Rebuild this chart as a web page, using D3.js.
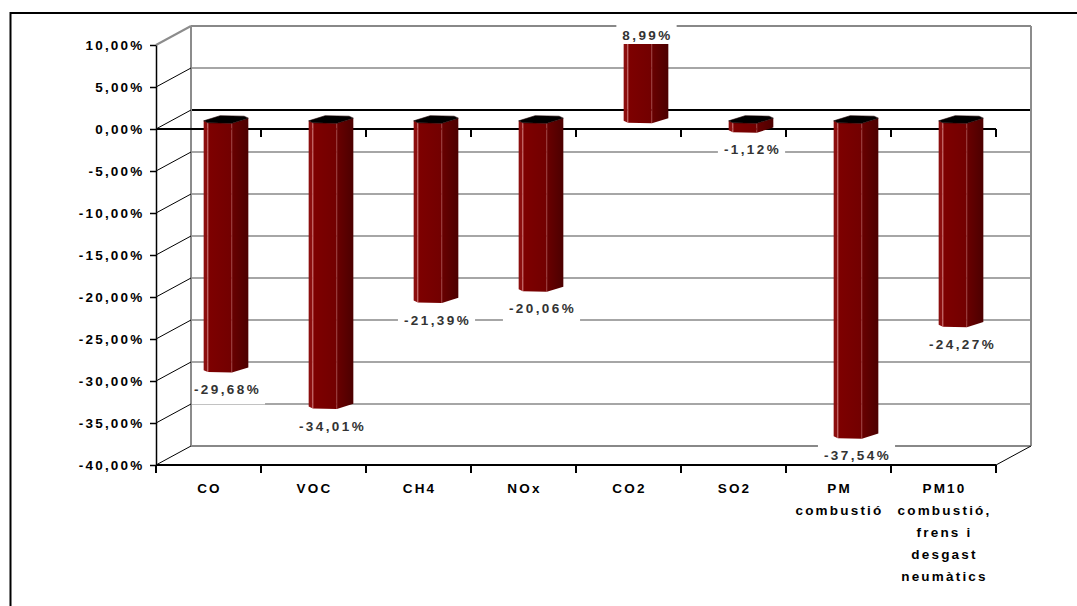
<!DOCTYPE html>
<html>
<head>
<meta charset="utf-8">
<script src="https://cdn.jsdelivr.net/npm/d3@7"></script>
<style>
  html, body { margin: 0; padding: 0; background: #fff; }
  svg { display: block; }
  text { font-family: "Liberation Sans", Arial, sans-serif; font-weight: bold; }
</style>
</head>
<body>
<svg id="chart" width="1077" height="606"></svg>
<script>
// Emission change per pollutant (%)
const categories = ["CO", "VOC", "CH4", "NOx", "CO2", "SO2", "PM combustió",
                    "PM10 combustió, frens i desgast neumàtics"];
const categoryLines = [["CO"], ["VOC"], ["CH4"], ["NOx"], ["CO2"], ["SO2"],
                       ["PM", "combustió"],
                       ["PM10", "combustió,", "frens i", "desgast", "neumàtics"]];
const changes = [-29.68, -34.01, -21.39, -20.06, 8.99, -1.12, -37.54, -24.27];
const tickValues = [10, 5, 0, -5, -10, -15, -20, -25, -30, -35, -40];

const locale = d3.formatLocale({ decimal: ",", thousands: ".", grouping: [3], currency: ["", "€"], minus: "-" });
const pct = v => locale.format(".2f")(v) + "%";

const svg = d3.select("#chart");

// front plane and the depth shift to the back wall
const front = { left: 156, right: 996, top: 45, bottom: 465 };
const depth = { dx: 35, dy: 19 };

const y = d3.scaleLinear().domain([-40, 10]).range([front.bottom, front.top]);
const x = d3.scaleBand().domain(categories).range([front.left, front.right]).padding(0);
const bw = x.bandwidth();

// outer frame
svg.append("rect")
  .attr("x", 10.5).attr("y", 13).attr("width", 1200).attr("height", 800)
  .attr("fill", "none").attr("stroke", "#000").attr("stroke-width", 2);

const grid = svg.append("g");
const backL = front.left + depth.dx, backR = front.right + depth.dx;

// back wall gridlines
grid.selectAll("line.g").data(tickValues).join("line")
  .attr("x1", backL).attr("x2", backR)
  .attr("y1", d => y(d) - depth.dy).attr("y2", d => y(d) - depth.dy)
  .attr("stroke", d => d === 0 ? "#000" : "#888")
  .attr("stroke-width", d => (d === 0 || d === 10 || d === -40) ? 2 : 1.3);

// label backgrounds interrupt the gridlines only
const labelBoxes = svg.append("g");

const walls = svg.append("g");
// back wall side edges
[backL, backR].forEach(bx => {
  walls.append("line")
    .attr("x1", bx).attr("x2", bx)
    .attr("y1", y(10) - depth.dy).attr("y2", y(-40) - depth.dy)
    .attr("stroke", "#8c8c8c").attr("stroke-width", 2);
});

// side wall diagonals
walls.selectAll("line.d").data(tickValues).join("line")
  .attr("x1", front.left).attr("x2", backL)
  .attr("y1", d => y(d)).attr("y2", d => y(d) - depth.dy)
  .attr("stroke", d => d === 10 ? "#8c8c8c" : "#000")
  .attr("stroke-width", d => d === 10 ? 2 : 1);

// floor right edge
walls.append("line")
  .attr("x1", front.right).attr("y1", y(-40))
  .attr("x2", backR).attr("y2", y(-40) - depth.dy)
  .attr("stroke", "#000").attr("stroke-width", 1);

// value axis
const yAxis = svg.append("g")
  .attr("transform", `translate(${front.left},0)`)
  .call(d3.axisLeft(y).tickValues(tickValues).tickFormat(pct).tickSize(6).tickSizeOuter(0).tickPadding(5.5));
yAxis.select(".domain").attr("stroke", "#000").attr("stroke-width", 1.5);
yAxis.selectAll(".tick line").attr("stroke", "#000").attr("stroke-width", 1.5);
yAxis.selectAll(".tick text")
  .attr("fill", "#000")
  .style("font-family", "'Liberation Sans', Arial, sans-serif")
  .style("font-weight", "bold")
  .style("font-size", "13.5px")
  .style("letter-spacing", "2.2px");

// category boundaries
const bounds = d3.range(categories.length + 1).map(k => front.left + k * x.step());

// value label positions
const labelPos = changes.map((v, i) => ({
  v,
  x: x(categories[i]) + bw / 2 + 19,
  y: y(v) + (v < 0 ? 11 : -18)
}));

// zero line on the front plane
svg.append("line")
  .attr("x1", front.left).attr("x2", front.right)
  .attr("y1", y(0)).attr("y2", y(0))
  .attr("stroke", "#000").attr("stroke-width", 2);
svg.selectAll("line.zt").data(bounds.slice(1)).join("line")
  .attr("x1", d => d).attr("x2", d => d)
  .attr("y1", y(0)).attr("y2", y(0) + 8)
  .attr("stroke", "#000").attr("stroke-width", 2);

// category axis
svg.append("line")
  .attr("x1", front.left).attr("x2", front.right)
  .attr("y1", y(-40)).attr("y2", y(-40))
  .attr("stroke", "#000").attr("stroke-width", 2);
svg.selectAll("line.xt").data(bounds).join("line")
  .attr("x1", d => d).attr("x2", d => d)
  .attr("y1", y(-40)).attr("y2", y(-40) + 8)
  .attr("stroke", "#000").attr("stroke-width", 2);

const catLabels = svg.append("g").selectAll("text").data(categories).join("text")
  .attr("x", d => x(d) + bw / 2)
  .attr("y", 493)
  .attr("text-anchor", "middle")
  .attr("fill", "#000")
  .style("font-size", "13.5px")
  .style("letter-spacing", "2.2px");
catLabels.each(function (d, i) {
  d3.select(this).selectAll("tspan").data(categoryLines[i]).join("tspan")
    .attr("x", x(d) + bw / 2 + 1)
    .attr("dy", (t, j) => j === 0 ? 0 : 22)
    .text(t => t);
});

// bar cross-section (hexagonal prism), as fractions of the band width
const hexR = [0.2127, -0.0128], hexFR = [0.0557, 0.0362], hexFL = [-0.1727, 0.0314];
const neg = p => [-p[0], -p[1]];
const hexRing = [hexR, hexFR, hexFL, neg(hexR), neg(hexFR), neg(hexFL)];
const frontChain = [neg(hexR), hexFL, hexFR, hexR];

const defs = svg.append("defs");
const gRight = defs.append("linearGradient").attr("id", "faceRight")
  .attr("x1", "0").attr("x2", "1").attr("y1", "0").attr("y2", "0");
gRight.append("stop").attr("offset", "0").attr("stop-color", "#690000");
gRight.append("stop").attr("offset", "1").attr("stop-color", "#4c0000");
const gMain = defs.append("linearGradient").attr("id", "faceMain")
  .attr("x1", "0").attr("x2", "1").attr("y1", "0").attr("y2", "0");
gMain.append("stop").attr("offset", "0").attr("stop-color", "#7e0000");
gMain.append("stop").attr("offset", "1").attr("stop-color", "#720000");
const faceFills = ["#8c0e0e", "url(#faceMain)", "url(#faceRight)"];

const bars = svg.append("g");
categories.forEach((c, i) => {
  const v = changes[i];
  const cx = x(c) + bw / 2 + depth.dx / 2;
  const y0 = y(0) - depth.dy / 2;
  const y1 = y(v) - depth.dy / 2;
  const pts = frontChain.map(p => [cx + p[0] * bw, p[1] * bw]);
  const g = bars.append("g");
  for (let k = 0; k < pts.length - 1; k++) {
    const a = pts[k], b = pts[k + 1];
    const poly = v < 0
      ? [[a[0], y0 + a[1]], [b[0], y0 + b[1]], [b[0], y1 + b[1]], [a[0], y1 + a[1]]]
      : [[a[0], y0 + a[1]], [b[0], y0 + b[1]], [b[0], y1], [a[0], y1]];
    g.append("polygon")
      .attr("points", poly.map(p => p.join(",")).join(" "))
      .attr("fill", faceFills[k]);
  }
  // facet edges
  [1, 2].forEach(k => {
    const p = pts[k];
    const top = v < 0 ? y0 + p[1] : y1;
    const bot = v < 0 ? y1 + p[1] : y0 + p[1];
    g.append("line")
      .attr("x1", p[0]).attr("x2", p[0])
      .attr("y1", top).attr("y2", bot)
      .attr("stroke", k === 1 ? "rgba(255,190,190,0.6)" : "rgba(220,140,140,0.35)")
      .attr("stroke-width", 1);
  });
  if (v < 0) {
    g.append("polygon")
      .attr("points", hexRing.map(p => [cx + p[0] * bw, y0 + p[1] * bw].join(",")).join(" "))
      .attr("fill", "#000").attr("stroke", "#1a0000").attr("stroke-width", 0.6);
  }
});

// value labels
const labelTexts = svg.append("g").selectAll("text").data(labelPos).join("text")
  .attr("x", d => d.x).attr("y", d => d.y).attr("dy", "0.36em")
  .attr("text-anchor", "middle")
  .attr("fill", "#333")
  .style("font-size", "13.5px")
  .style("letter-spacing", "2.4px")
  .text(d => pct(d.v));
labelTexts.each(function (d) {
  const bb = this.getBBox();
  labelBoxes.append("rect")
    .attr("x", bb.x - 6).attr("y", d.y - 14)
    .attr("width", bb.width + 10).attr("height", 29)
    .attr("fill", "#fff");
});
</script>
</body>
</html>
